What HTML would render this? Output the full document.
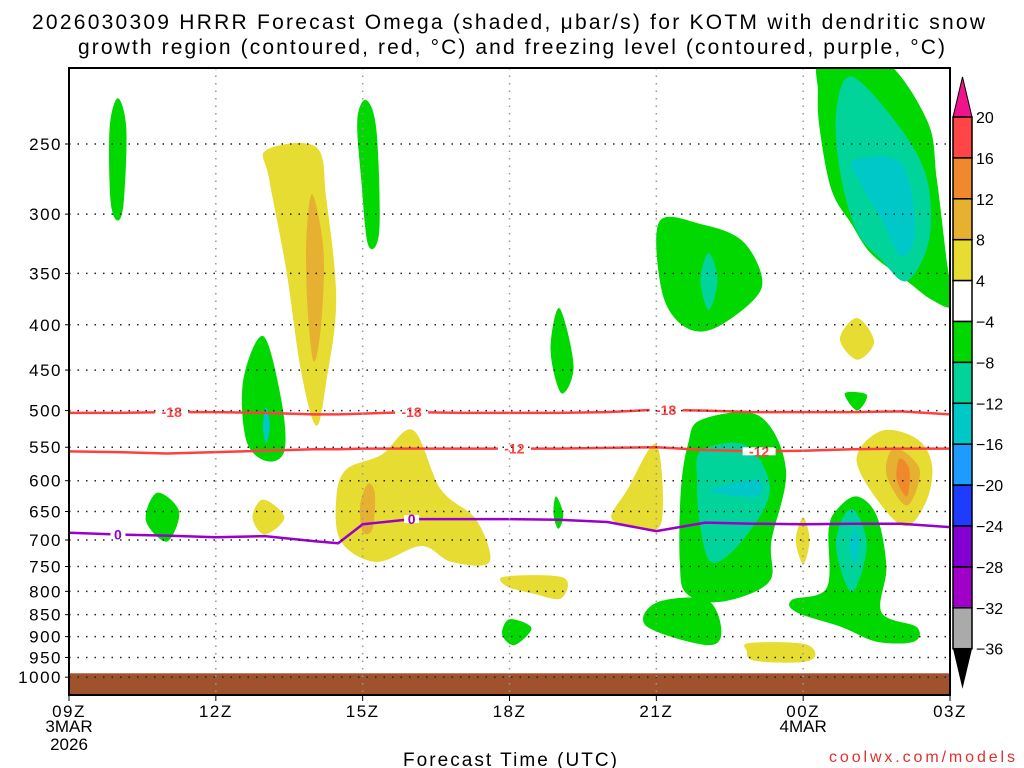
<!DOCTYPE html>
<html><head><meta charset="utf-8">
<style>
body{margin:0;background:#fff;}
svg{display:block;font-family:"Liberation Sans",sans-serif;}
</style></head>
<body>
<svg id="chart" width="1024" height="768" viewBox="0 0 1024 768">
<text x="32" y="29" font-size="21" textLength="953" lengthAdjust="spacing">2026030309 HRRR Forecast Omega (shaded, μbar/s) for KOTM with dendritic snow</text>
<text x="78" y="54" font-size="21" textLength="867" lengthAdjust="spacing">growth region (contoured, red, °C) and freezing level (contoured, purple, °C)</text>
<g id="plot"></g>
<text x="403" y="766" font-size="19" textLength="214" lengthAdjust="spacing">Forecast Time (UTC)</text>
<text x="829" y="762" font-size="16" fill="#e03030" textLength="186" lengthAdjust="spacing">coolwx.com/models</text>
</svg>
<script>
const NS="http://www.w3.org/2000/svg";
const pLevels=[250,300,350,400,450,500,550,600,650,700,750,800,850,900,950,1000];
const xTickHours=[0,3,6,9,12,15,18];
const xTickLabels=["09Z","12Z","15Z","18Z","21Z","00Z","03Z"];
const cbLevels=[20,16,12,8,4,-4,-8,-12,-16,-20,-24,-28,-32,-36];
const cbColors=["#ff4545","#f0882c","#e6b030","#e6dc32","#ffffff","#00d800","#00d49a","#00c8c8","#1e9bff","#1e3cff","#8200d2","#a000c8","#aaaaaa"];
const lineHours=[0,1,2,3,4,5,5.5,6,7,8,9,10,11,12,13,14,15,16,17,18];
const iso18=[503,503,502,502,503,505,505,504,502,503,503,503,502,499,500,502,502,502,501,505];
const iso12=[556,557,559,557,555,553,553,552,552,552,552,552,551,550,554,556,555,553,552,552];
const frz0=[687,690,692,695,693,702,706,672,663,663,663,664,668,684,669,671,672,671,671,677];
const blobs=[
["#00d800",[[1.0,222],[1.17,240],[1.12,290],[1.0,305],[0.85,290],[0.83,240]]],
["#e6dc32",[[4.03,254],[5.05,252],[5.26,289],[5.46,375],[5.26,463],[5.05,520],[4.74,451],[4.44,347],[4.09,274]]],
["#e6b030",[[4.97,285],[5.2,330],[5.15,400],[5.0,440],[4.87,380],[4.85,320]]],
["#00d800",[[3.97,412],[4.34,487],[4.4,555],[4.03,570],[3.62,540],[3.56,462]]],
["#00c8c8",[[4.03,495],[4.1,520],[4.03,545],[3.96,520]]],
["#00d800",[[6.07,223],[6.28,241],[6.34,313],[6.11,325],[5.97,274],[5.89,235]]],
["#00d800",[[1.8,619],[2.25,650],[2.0,703],[1.57,665]]],
["#e6dc32",[[3.97,630],[4.4,660],[4.0,690],[3.75,660]]],
["#e6dc32",[[5.66,583],[6.38,561],[7.03,526],[7.6,614],[8.32,664],[8.59,741],[7.81,741],[7.2,711],[6.28,741],[5.56,703],[5.46,630]]],
["#e6b030",[[6.1,605],[6.25,620],[6.2,680],[6.0,685],[5.95,640]]],
["#00d800",[[10.02,383],[10.31,445],[10.06,478],[9.84,428]]],
["#00d800",[[9.95,625],[10.1,655],[10.0,680],[9.9,655]]],
["#00d800",[[9.0,860],[9.45,880],[9.1,920],[8.85,895]]],
["#e6dc32",[[8.9,770],[10.1,772],[10.05,815],[9.5,805],[8.95,790]]],
["#e6dc32",[[12.0,546],[12.1,670],[11.5,675],[11.08,660],[11.4,615]]],
["#00d800",[[12.06,306],[12.92,308],[13.74,321],[14.15,352],[13.99,375],[13.13,405],[12.52,400],[12.11,366]]],
["#00d49a",[[13.07,332],[13.25,356],[13.07,385],[12.9,356]]],
["#00d800",[[12.92,512],[14.1,507],[14.65,583],[14.35,702],[14.3,781],[13.33,822],[12.62,805],[12.48,742],[12.5,616],[12.65,545]]],
["#00d49a",[[12.92,555],[13.84,548],[14.32,616],[13.74,703],[13.13,742],[12.89,672],[12.83,600]]],
["#00c8c8",[[13.09,616],[14.05,598],[14.05,625]]],
["#00d800",[[12.0,824],[13.03,818],[13.33,888],[13.03,920],[11.8,876]]],
["#e6dc32",[[13.9,915],[15.0,917],[15.25,945],[14.95,962],[14.0,958],[13.85,935]]],
["#00d800",[[16.09,625],[16.5,657],[16.7,750],[16.6,845],[17.32,878],[17.26,912],[16.5,912],[15.79,878],[14.87,845],[14.77,818],[15.48,793],[15.52,683],[15.68,648]]],
["#00d49a",[[16.05,648],[16.3,711],[16.0,802],[15.68,720],[15.79,664]]],
["#00c8c8",[[16.05,680],[16.15,710],[16.05,745],[15.95,710]]],
["#e6dc32",[[16.6,527],[17.32,538],[17.63,575],[17.53,630],[17.12,675],[16.6,640],[16.09,568]]],
["#e6b030",[[16.87,551],[17.38,583],[17.12,640],[16.7,590]]],
["#f0882c",[[16.97,567],[17.17,583],[17.12,625],[16.91,597]]],
["#e6dc32",[[15.0,660],[15.13,700],[15.0,745],[14.85,700]]],
["#e6dc32",[[16.1,393],[16.45,418],[16.1,438],[15.75,415]]],
["#00d800",[[15.85,478],[16.3,480],[16.1,500]]],
["#00d800",[[15.38,200],[16.6,200],[17.53,235],[17.73,274],[17.93,338],[18.05,380],[17.63,375],[17.12,357],[16.4,333],[15.99,308],[15.58,282],[15.34,241],[15.3,218]]],
["#00d49a",[[16.01,210],[17.01,241],[17.53,274],[17.57,321],[17.12,357],[16.6,338],[16.09,313],[15.75,268],[15.68,229]]],
["#00c8c8",[[16.03,261],[17.01,263],[17.28,313],[17.01,335],[16.6,304],[16.19,278]]]
];
const X0=69,X1=950,Y0=68,Y1=695;
function xs(h){return X0+(X1-X0)*h/18;}
function ys(p){return 144+384.6*Math.log(p/250);}
const plotG=document.getElementById('plot');
function mk(tag,attrs,parent){const e=document.createElementNS(NS,tag);for(const k in attrs)e.setAttribute(k,attrs[k]);(parent||plotG).appendChild(e);return e;}
const clipEl=mk('clipPath',{id:'pc'});mk('rect',{x:X0,y:Y0,width:X1-X0,height:Y1-Y0},clipEl);
const gIn=mk('g',{'clip-path':'url(#pc)'});
function smooth(pts){let d='';const n=pts.length;for(let i=0;i<n;i++){const p0=pts[(i-1+n)%n],p1=pts[i],p2=pts[(i+1)%n],p3=pts[(i+2)%n];if(i==0)d+='M'+p1[0]+','+p1[1];const c1=[p1[0]+(p2[0]-p0[0])/6,p1[1]+(p2[1]-p0[1])/6],c2=[p2[0]-(p3[0]-p1[0])/6,p2[1]-(p3[1]-p1[1])/6];d+='C'+c1.join(',')+' '+c2.join(',')+' '+p2.join(',');}return d+'Z';}
blobs.forEach((b,i)=>{const pts=b[1].map(q=>[+xs(q[0]).toFixed(1),+ys(q[1]).toFixed(1)]);
const e=mk('path',{d:smooth(pts),fill:b[0]},gIn);

});
const gr=mk('rect',{x:X0,y:ys(990),width:X1-X0,height:Y1-ys(990),fill:'#a0522d'},gIn);


pLevels.forEach(p=>{const y=ys(p);const l=mk('line',{x1:X0,x2:X1,y1:y,y2:y,stroke:'#222','stroke-width':1.5,'stroke-dasharray':'1.5 7'});


mk('line',{x1:X0-4,x2:X0,y1:y,y2:y,stroke:'#000'});
const t=mk('text',{x:X0-7,y:y+6,'font-size':17,'text-anchor':'end','letter-spacing':'1.5'});t.textContent=p;

});
xTickHours.forEach((h,i)=>{const x=xs(h);if(i>0&&i<6){const l=mk('line',{x1:x,x2:x,y1:Y0,y2:Y1,stroke:'#999','stroke-width':1.5,'stroke-dasharray':'1.5 6'});

}
mk('line',{x1:x,x2:x,y1:Y1,y2:Y1+6,stroke:'#000'});
const t=mk('text',{x:x,y:Y1+22,'font-size':17,'text-anchor':'middle','letter-spacing':'1.5'});t.textContent=xTickLabels[i];

});
[["3MAR",0,732],["2026",0,750],["4MAR",15,732]].forEach(a=>{const t=mk('text',{x:xs(a[1]),y:a[2],'font-size':17,'text-anchor':'middle'});t.textContent=a[0];

});
function cline(vals,color,name,labels,lab){const d=lineHours.map((h,i)=>(i?'L':'M')+xs(h).toFixed(1)+','+ys(vals[i]).toFixed(1)).join('');
const e=mk('path',{d:d,fill:'none',stroke:color,'stroke-width':2.5,'stroke-linejoin':'round'},gIn);


labels.forEach(h=>{let i=0;while(i<lineHours.length-2&&lineHours[i+1]<h)i++;const f=(h-lineHours[i])/(lineHours[i+1]-lineHours[i]);const p=vals[i]+(vals[i+1]-vals[i])*f;
const w=lab.length*9+6;
mk('rect',{x:xs(h)-w/2,y:ys(p)-4,width:w,height:8,fill:'#fff'},gIn);
const t=mk('text',{x:xs(h),y:ys(p)+5,'font-size':14,'font-weight':'bold',fill:color,'text-anchor':'middle'},gIn);t.textContent=lab;

});}
cline(iso18,'#ff4040','isotherm-minus18',[2.1,7.0,12.2],'-18');
cline(iso12,'#ff4040','isotherm-minus12',[9.1,14.1],'-12');
cline(frz0,'#9900cc','freezing-level',[1.0,7.0],'0');
const fr=mk('rect',{x:X0,y:Y0,width:X1-X0,height:Y1-Y0,fill:'none',stroke:'#000','stroke-width':2});


const CB=953,CW=19,cy0=117,cstep=40.9;
const topArrow=mk('polygon',{points:`${CB},${cy0} ${CB+CW},${cy0} ${CB+CW/2},${cy0-40}`,fill:'#f0148c',stroke:'#000'});


cbColors.forEach((c,i)=>{const r=mk('rect',{x:CB,y:cy0+i*cstep,width:CW,height:cstep,fill:c,stroke:'#000','stroke-width':1.5});

});
const yb=cy0+cbColors.length*cstep;
const botArrow=mk('polygon',{points:`${CB},${yb} ${CB+CW},${yb} ${CB+CW/2},${yb+40}`,fill:'#000'});


cbLevels.forEach((v,i)=>{const t=mk('text',{x:CB+CW+4,y:cy0+i*cstep+6,'font-size':16});t.textContent=(v<0?'−':'')+Math.abs(v);

});
</script>
</body></html>
